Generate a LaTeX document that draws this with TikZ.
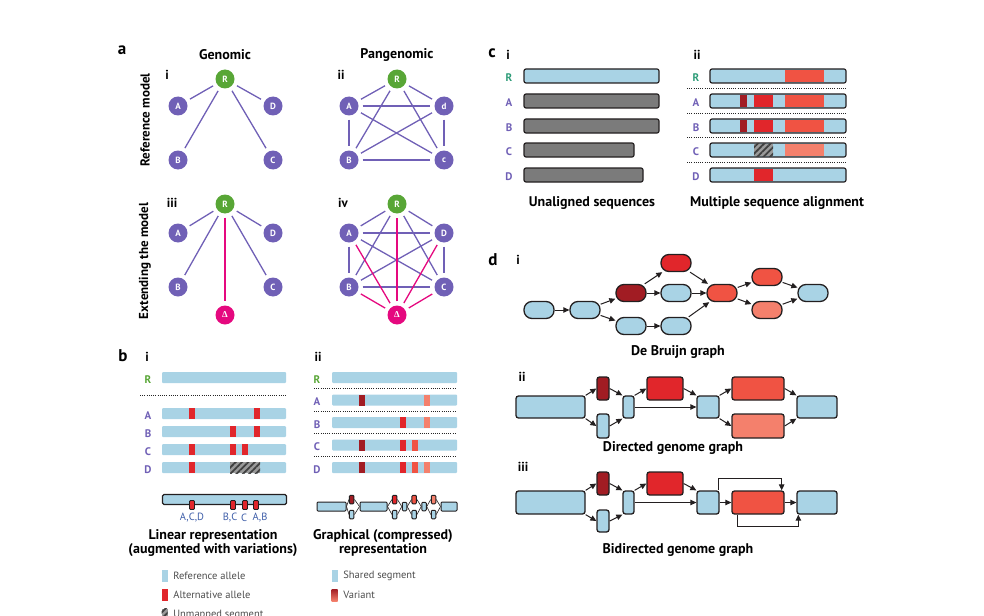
\documentclass[tikz,border=0pt]{standalone}
\usepackage{fontspec}
\setmainfont{PT Sans}
\newfontfamily\grkfont{Liberation Serif}
\usepackage{tikz}
\usetikzlibrary{positioning}
\usetikzlibrary{arrows.meta}
\usetikzlibrary{calc,patterns.meta}
\definecolor{gpurple}{HTML}{7060B6}
\definecolor{rgreen}{HTML}{58A636}
\definecolor{cteal}{HTML}{2E9C78}
\definecolor{dmag}{HTML}{E5097F}
\definecolor{lblue}{HTML}{A9D3E5}
\definecolor{altred}{HTML}{E1262B}
\definecolor{dred}{HTML}{A11C23}
\definecolor{tred}{HTML}{F05343}
\definecolor{sred}{HTML}{F4806C}
\definecolor{gbar}{HTML}{7B7B7B}
\definecolor{outl}{HTML}{231F20}
\definecolor{hgray}{HTML}{9A9A9A}
\definecolor{lbtext}{HTML}{3D5DA8}
\newcommand{\fsz}[1]{\fontsize{#1}{#1}\selectfont}

\begin{document}
\begin{tikzpicture}[x=1pt,y=-1pt,
	every node/.style={inner sep=0pt},
	plet/.style={font=\bfseries\fsz{17}},
	sub/.style={font=\bfseries\fsz{13}},
	ttl/.style={font=\bfseries\fsz{14}},
	vtx/.style={circle,fill=gpurple,text=white,minimum size=19pt,font=\bfseries\fsz{9}},
	ref/.style={vtx,fill=rgreen},
	del/.style={vtx,fill=dmag},
	ln/.style={line width=1.3pt,gpurple,shorten <=4pt,shorten >=4pt},
	lnd/.style={ln,dmag},
	rowlab/.style={font=\bfseries\fsz{11},text=gpurple},
	bbar/.style={fill=lblue,rounded corners=1pt,minimum height=11pt},
	mk/.style={minimum width=6pt,minimum height=11pt},
	hatch/.style={preaction={fill=hgray},pattern={Lines[angle=45,distance=4.5pt,line width=1.8pt]},pattern color=black!75},
	dotl/.style={line width=0.8pt,dash pattern=on 1pt off 1.2pt,black!85},
	vm/.style={draw=outl,line width=0.9pt,fill=altred,rounded corners=1pt,minimum width=5pt,minimum height=9pt},
	gseg/.style={draw=outl,line width=1pt,fill=lblue,rounded corners=1pt,minimum height=9pt},
	gbox/.style={gseg,minimum width=4.5pt,minimum height=8.5pt},
	gcon/.style={line width=0.6pt,outl},
	sw/.style={minimum width=6pt,minimum height=12pt},
	legt/.style={font=\fsz{10.5},text=black!70},
	cbar/.style={draw=outl,line width=1.2pt,rounded corners=2pt,minimum height=14pt},
	pill/.style={draw=outl,line width=1.3pt,rounded corners=8pt,minimum width=30pt,minimum height=17pt,fill=lblue},
	gbx/.style={draw=outl,line width=1.3pt,rounded corners=2.5pt,fill=lblue},
	arr/.style={-{Triangle[length=6pt,width=5.5pt]},line width=1pt,outl}]
	\useasboundingbox (0,0) rectangle (984,615);

	% a: graphs
	\node[plet] (lbla) at (122,50) {a};
	\node[ttl] (hgen) at (225,55) {Genomic};
	\node[ttl] (hpan) at (397,55) {Pangenomic};
	\node[font=\bfseries\fsz{13},rotate=90] (vref) at (145,120) {Reference model};
	\node[font=\bfseries\fsz{13},rotate=90] (vext) at (145,261) {Extending the model};
	\node[sub] at (167,75) {i};
	\node[sub] at (341,75) {ii};
	\node[sub] at (172,203) {iii};
	\node[sub] at (343,203) {iv};

	\node[ref] (iR) at (225,79) {R};
	\node[vtx] (iA) at (178,106) {A};
	\node[vtx] (iD) at (273,106) {D};
	\node[vtx] (iB) at (178,160) {B};
	\node[vtx] (iC) at (273,160) {C};
	\foreach \t in {A,D,B,C} \draw[ln] (iR) -- (i\t);

	\node[ref] (iiR) at (397,79) {R};
	\node[vtx] (iiA) at (349,106) {A};
	\node[vtx] (iiD) at (444,106) {d};
	\node[vtx] (iiB) at (349,160) {B};
	\node[vtx] (iiC) at (444,160) {c};
	\foreach \s/\t in {R/A,R/D,R/B,R/C,A/D,A/B,A/C,B/D,B/C,D/C} \draw[ln] (ii\s) -- (ii\t);

	\node[ref] (iiiR) at (225,204) {R};
	\node[vtx] (iiiA) at (178,233) {A};
	\node[vtx] (iiiD) at (273,233) {D};
	\node[vtx] (iiiB) at (178,287) {B};
	\node[vtx] (iiiC) at (273,287) {C};
	\node[del] (iiiX) at (225,315) {\grkfont\bfseries Δ};
	\foreach \t in {A,D,B,C} \draw[ln] (iiiR) -- (iii\t);
	\draw[lnd] (iiiR) -- (iiiX);

	\node[ref] (ivR) at (397,204) {R};
	\node[vtx] (ivA) at (349,233) {A};
	\node[vtx] (ivD) at (444,233) {D};
	\node[vtx] (ivB) at (349,287) {B};
	\node[vtx] (ivC) at (444,287) {C};
	\node[del] (ivX) at (397,315) {\grkfont\bfseries Δ};
	\foreach \s/\t in {R/A,R/D,R/B,R/C,A/D,A/B,A/C,B/D,B/C,D/C} \draw[ln] (iv\s) -- (iv\t);
	\foreach \t in {R,A,B,C,D} \draw[lnd] (ivX) -- (iv\t);

	% b i: linear representation
	\node[plet] (lblb) at (123,356) {b};
	\node[sub] at (147,357) {i};
	\node[rowlab,text=rgreen] (biRl) at (148,380) {R};
	\node[bbar,minimum width=124pt] (biR) at (224,377.5) {};
	\draw[dotl] (140,395) -- (287,395);
	\foreach \n/\y in {A/413.5,B/431.5,C/449.5,D/467.5} {
		\node[rowlab] (bi\n l) at (148,{\y+2}) {\n};
		\node[bbar,minimum width=124pt] (bi\n) at (224,\y) {};
	}
	\foreach \x/\y [count=\k] in {192/413.5,257/413.5,233/431.5,257/431.5,192/449.5,233/449.5,245/449.5,192/467.5}
		\node[mk,fill=altred] (bim\k) at (\x,\y) {};
	\node[mk,hatch,minimum width=30pt] (bihat) at (245,467.5) {};

	\node[draw=outl,line width=1.2pt,fill=lblue,rounded corners=1.5pt,minimum width=124pt,minimum height=10pt] (bilin) at (224.5,499.5) {};
	\foreach \x [count=\k] in {192,233,245,256} \node[vm] (bilv\k) at (\x,505) {};
	\node[font=\fsz{10.5},text=lbtext] (bit1) at (192,518) {A,C,D};
	\node[font=\fsz{10.5},text=lbtext] (bit2) at (230,518) {B,C};
	\node[font=\fsz{10.5},text=lbtext] (bit3) at (244,518) {C};
	\node[font=\fsz{10.5},text=lbtext] (bit4) at (260,518) {A,B};
	\node[align=center,font=\bfseries\fontsize{14}{14.5}\selectfont] (bicap) at (213,543) {Linear representation\\(augmented with variations)};

	% b ii: graphical representation
	\node[sub] at (318,357) {ii};
	\node[rowlab,text=rgreen] (biiRl) at (317,380) {R};
	\node[bbar,minimum width=125pt] (biiR) at (394.5,377.5) {};
	\foreach \n/\y in {A/400,B/422.5,C/445,D/467.5} {
		\node[rowlab] (bii\n l) at (317,{\y+2}) {\n};
		\node[bbar,minimum width=125pt] (bii\n) at (394.5,\y) {};
	}
	\foreach \y in {388.5,411,433.5,456} \draw[dotl] (314,\y) -- (457,\y);
	\foreach \x/\y/\c [count=\k] in {362/400/dred,427/400/sred,403/422.5/altred,427/422.5/sred,
		362/445/dred,403/445/altred,415/445/tred,362/467.5/dred,403/467.5/altred,415/467.5/tred,427/467.5/sred}
		\node[mk,fill=\c] (biim\k) at (\x,\y) {};

	\node[gseg,minimum width=29pt] (g1) at (331.5,506.5) {};
	\node[gseg,minimum width=27pt] (g2) at (373.5,506.5) {};
	\node[gseg,minimum width=16pt] (g3) at (449,506.5) {};
	\node[gbox] (gm1) at (404.5,506.5) {};
	\node[gbox] (gm2) at (424,506.5) {};
	\foreach \x/\c [count=\k] in {351.7/dred,394.7/altred,414.2/tred,433.5/sred} {
		\node[gbox,fill=\c] (gt\k) at (\x,499.5) {};
		\node[gbox] (gb\k) at (\x,514.5) {};
	}
	\foreach \a/\b in {g1/gt1,g1/gb1,gt1/g2,gb1/g2,g2/gt2,g2/gb2,gt2/gm1,gb2/gm1,gm1/gt3,gm1/gb3,gt3/gm2,gb3/gm2,gm2/gt4,gm2/gb4,gt4/g3,gb4/g3}
		\draw[gcon] (\a.east) -- (\b.west);
	\node[align=center,font=\bfseries\fontsize{14}{14.5}\selectfont] (biicap) at (383,543) {Graphical (compressed)\\representation};

	% legend
	\node[sw,fill=lblue] (lg1) at (164.5,575.5) {};
	\node[legt,right=5.5pt of lg1] (lgt1) {Reference allele};
	\node[sw,fill=altred] (lg2) at (164.5,595) {};
	\node[legt,right=5.5pt of lg2] (lgt2) {Alternative allele};
	\node[sw,hatch] (lg3) at (164.5,614.5) {};
	\node[legt,right=5.5pt of lg3] (lgt3) {Unmapped segment};
	\node[sw,fill=lblue] (lg4) at (334.5,575.5) {};
	\node[legt,right=5.5pt of lg4] (lgt4) {Shared segment};
	\node[sw,top color=dred,bottom color=sred] (lg5) at (334.5,595) {};
	\node[legt,right=5.5pt of lg5] (lgt5) {Variant};

	% c: sequences
	\node[plet] (lblc) at (492,53) {c};
	\node[sub] at (508,55) {i};
	\node[sub] at (697,55) {ii};
	\node[rowlab,text=cteal] (ciRl) at (509,78) {R};
	\node[rowlab,text=cteal] (ciiRl) at (696,78) {R};
	\foreach \n/\y in {A/101,B/126,C/150,D/175} {
		\node[rowlab] (ci\n l) at (509,{\y+2}) {\n};
		\node[rowlab] (cii\n l) at (696,{\y+2}) {\n};
	}
	\node[cbar,fill=lblue,minimum width=135pt] (ciR) at (591.5,76) {};
	\node[cbar,fill=gbar,minimum width=135pt] (ciA) at (591.5,101) {};
	\node[cbar,fill=gbar,minimum width=135pt] (ciB) at (591.5,126) {};
	\node[cbar,fill=gbar,minimum width=110pt] (ciC) at (579,150) {};
	\node[cbar,fill=gbar,minimum width=119pt] (ciD) at (583.5,175) {};
	\node[ttl] (cicap) at (592,203) {Unaligned sequences};

	\foreach \n/\y in {R/76,A/101,B/126,C/150,D/175}
		\node[cbar,fill=lblue,minimum width=136pt] (cii\n) at (778,\y) {};
	\fill[tred] (785,69.6) rectangle (824,82.4);
	\foreach \y in {101,126} {
		\fill[dred] (740,{\y-6.4}) rectangle (747,{\y+6.4});
		\fill[altred] (754,{\y-6.4}) rectangle (773,{\y+6.4});
		\fill[tred] (785,{\y-6.4}) rectangle (824,{\y+6.4});
	}
	\fill[hatch] (754,143.6) rectangle (773,156.4);
	\fill[sred] (785,143.6) rectangle (824,156.4);
	\fill[altred] (754,168.6) rectangle (773,181.4);
	\foreach \y in {88.5,113,137.5,162.5} \draw[dotl] (687,\y) -- (846,\y);
	\node[ttl] (ciicap) at (777,203) {Multiple sequence alignment};

	% d i: de Bruijn graph
	\node[plet] (lbld) at (493,260) {d};
	\node[sub] at (518,260) {i};
	\node[pill] (n1) at (539,310) {};
	\node[pill] (n2) at (585,310) {};
	\node[pill,fill=dred] (n3) at (631,293) {};
	\node[pill] (n4) at (631,326) {};
	\node[pill,fill=altred] (n5) at (676,263) {};
	\node[pill] (n6) at (676,293) {};
	\node[pill] (n7) at (676,326) {};
	\node[pill,fill=tred] (n8) at (722,293) {};
	\node[pill,fill=tred] (n9) at (767,277) {};
	\node[pill,fill=sred] (n10) at (767,310) {};
	\node[pill] (n11) at (813,293) {};
	\foreach \a/\b in {n1/n2,n2/n3,n2/n4,n3/n5,n3/n6,n4/n7,n5/n8,n6/n8,n7/n8,n8/n9,n8/n10,n9/n11,n10/n11}
		\draw[arr] (\a) -- (\b);
	\node[ttl] (dicap) at (678,352) {De Bruijn graph};

	% d ii: directed genome graph
	\node[sub] at (522,377) {ii};
	\node[gbx,minimum width=69pt,minimum height=22pt] (dB1) at (550.5,407) {};
	\node[gbx,fill=dred,minimum width=12pt,minimum height=23pt] (dV1) at (603,388.5) {};
	\node[gbx,minimum width=12pt,minimum height=24pt] (dV2) at (603,426) {};
	\node[gbx,minimum width=11pt,minimum height=22pt] (dM1) at (628.5,407) {};
	\node[gbx,fill=altred,minimum width=36pt,minimum height=23pt] (dR1) at (665,388.5) {};
	\node[gbx,minimum width=22pt,minimum height=22pt] (dM2) at (708,407) {};
	\node[gbx,fill=tred,minimum width=52pt,minimum height=23pt] (dR2) at (758,388.5) {};
	\node[gbx,fill=sred,minimum width=52pt,minimum height=24pt] (dR3) at (758,426) {};
	\node[gbx,minimum width=40pt,minimum height=22pt] (dE1) at (817,407) {};
	\draw[arr] (dB1.north east) -- (dV1.west);
	\draw[arr] (dB1.south east) -- (dV2.west);
	\draw[arr] (dV1.east) -- (dM1.north west);
	\draw[arr] (dV2.east) -- (dM1.south west);
	\draw[arr] (dM1.north east) -- (dR1.west);
	\draw[arr] (dM1.east) -- (dM2.west);
	\draw[arr] (dR1.east) -- (dM2.north west);
	\draw[arr] (dM2.north east) -- (dR2.west);
	\draw[arr] (dM2.south east) -- (dR3.west);
	\draw[arr] (dR2.east) -- (dE1.north west);
	\draw[arr] (dR3.east) -- (dE1.south west);
	\node[ttl] (diicap) at (673,448) {Directed genome graph};

	% d iii: bidirected genome graph
	\node[sub] at (523,467) {iii};
	\node[gbx,minimum width=69pt,minimum height=23pt] (tB1) at (550.5,502.5) {};
	\node[gbx,fill=dred,minimum width=12pt,minimum height=23pt] (tV1) at (603,483.5) {};
	\node[gbx,minimum width=12pt,minimum height=22pt] (tV2) at (603,521) {};
	\node[gbx,minimum width=11pt,minimum height=23pt] (tM1) at (628.5,502.5) {};
	\node[gbx,fill=altred,minimum width=36pt,minimum height=23pt] (tR1) at (665,483.5) {};
	\node[gbx,minimum width=22pt,minimum height=23pt] (tM2) at (708,502.5) {};
	\node[gbx,fill=tred,minimum width=52pt,minimum height=23pt] (tR2) at (758,502.5) {};
	\node[gbx,minimum width=40pt,minimum height=23pt] (tE1) at (817,502.5) {};
	\draw[arr] (tB1.north east) -- (tV1.west);
	\draw[arr] (tB1.south east) -- (tV2.west);
	\draw[arr] (tV1.east) -- (tM1.north west);
	\draw[arr] (tV2.east) -- (tM1.south west);
	\draw[arr] (tM1.north east) -- (tR1.west);
	\draw[arr] (tM1.east) -- (tM2.west);
	\draw[arr] (tR1.east) -- (tM2.north west);
	\draw[arr] (tM2.east) -- (tR2.west);
	\draw[arr] (tR2.east) -- (tE1.west);
	\draw[arr] ([xshift=-1pt]tM2.north east) -- ++(0,-12) -| ([xshift=-3pt]tR2.north east);
	\draw[arr] ([xshift=6pt]tR2.south west) -- ++(0,12) -| ([xshift=2pt]tE1.south west);
	\node[ttl] (diiicap) at (678,550) {Bidirected genome graph};
\end{tikzpicture}
\end{document}
